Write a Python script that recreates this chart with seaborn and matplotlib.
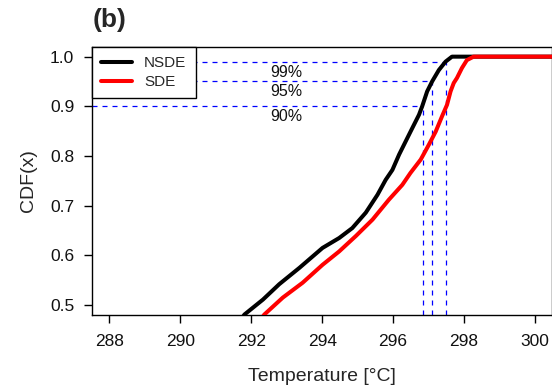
import matplotlib
matplotlib.use("Agg")
import matplotlib.pyplot as plt
import numpy as np
import pandas as pd
import seaborn as sns

# values
nsde_temp = [291.55, 291.81, 292.33, 292.79, 293.36, 294.01, 294.48, 294.85, 295.23,
             295.56, 295.79, 295.98, 296.17, 296.40, 296.54, 296.73, 296.82, 296.96,
             297.10, 297.29, 297.48, 297.66, 298.50, 301.0]
nsde_cdf = [0.455, 0.481, 0.511, 0.542, 0.575, 0.615, 0.635, 0.655, 0.686,
            0.722, 0.752, 0.772, 0.803, 0.836, 0.856, 0.883, 0.900, 0.930,
            0.950, 0.973, 0.990, 1.0, 1.0, 1.0]
sde_temp = [292.15, 292.37, 292.89, 293.45, 294.01, 294.48, 294.95, 295.42, 295.88,
            296.26, 296.49, 296.78, 297.01, 297.20, 297.38, 297.52, 297.62, 297.71,
            297.80, 297.94, 298.08, 298.27, 301.0]
sde_cdf = [0.460, 0.481, 0.515, 0.545, 0.581, 0.608, 0.639, 0.672, 0.712,
           0.742, 0.766, 0.793, 0.823, 0.849, 0.880, 0.903, 0.930, 0.947,
           0.957, 0.977, 0.993, 1.0, 1.0]

levels = [0.90, 0.95, 0.99]
level_labels = ["90%", "95%", "99%"]
quantiles = [296.84, 297.11, 297.49]

x_ticks = [288, 290, 292, 294, 296, 298, 300]
y_ticks = [0.5, 0.6, 0.7, 0.8, 0.9, 1.0]

df = pd.concat([
    pd.DataFrame({"temp": nsde_temp, "cdf": nsde_cdf, "model": "NSDE"}),
    pd.DataFrame({"temp": sde_temp, "cdf": sde_cdf, "model": "SDE"}),
])

sns.set_style("ticks")
plt.rcParams["font.family"] = ["Liberation Sans", "DejaVu Sans"]

fig = plt.figure(figsize=(5.52, 3.88), dpi=100)
ax = fig.add_axes([0.1672, 0.1881, 0.8328, 0.6915])

xlo, xhi = 287.52, 300.48
ylo, yhi = 0.48, 1.02

for lev, lab, q in zip(levels, level_labels, quantiles):
    ax.plot([xlo, q], [lev, lev], color="blue", lw=0.9, ls=(0, (4, 4)), zorder=1)
    ax.plot([q, q], [ylo, lev], color="blue", lw=0.9, ls=(0, (4, 4)), zorder=1)
    ax.text(293.0, lev - 0.006, lab, ha="center", va="top", fontsize=11.5, color="#111111")

sns.lineplot(data=df, x="temp", y="cdf", hue="model",
             palette={"NSDE": "black", "SDE": "red"}, linewidth=2.9,
             solid_joinstyle="round", solid_capstyle="round",
             ax=ax, zorder=3)

ax.set_xlim(xlo, xhi)
ax.set_ylim(ylo, yhi)
ax.set_xticks(x_ticks)
ax.set_yticks(y_ticks)
ax.set_yticklabels([f"{v:.1f}" for v in y_ticks])
ax.tick_params(labelsize=12.5, length=6, width=1, color="black", labelcolor="#111111")
ax.tick_params(axis="x", pad=8)
ax.tick_params(axis="y", pad=7)
for s in ax.spines.values():
    s.set_color("black")
    s.set_linewidth(1)

ax.set_xlabel("Temperature [°C]", fontsize=14, labelpad=13)
ax.set_ylabel("CDF(x)", fontsize=14, labelpad=9)

handles, labels = ax.get_legend_handles_labels()
leg = ax.legend(handles, labels, loc="upper left", borderaxespad=0, fontsize=11,
                frameon=True, fancybox=False, edgecolor="black", framealpha=1,
                handlelength=2.0, handletextpad=0.8, borderpad=0.6, labelspacing=0.35)
leg.get_frame().set_linewidth(1)
for h in leg.get_lines():
    h.set_linewidth(2.9)

fig.text(0.168, 0.948, "(b)", fontsize=19, fontweight="bold", ha="left", va="center")

fig.savefig("out.png", dpi=100)
